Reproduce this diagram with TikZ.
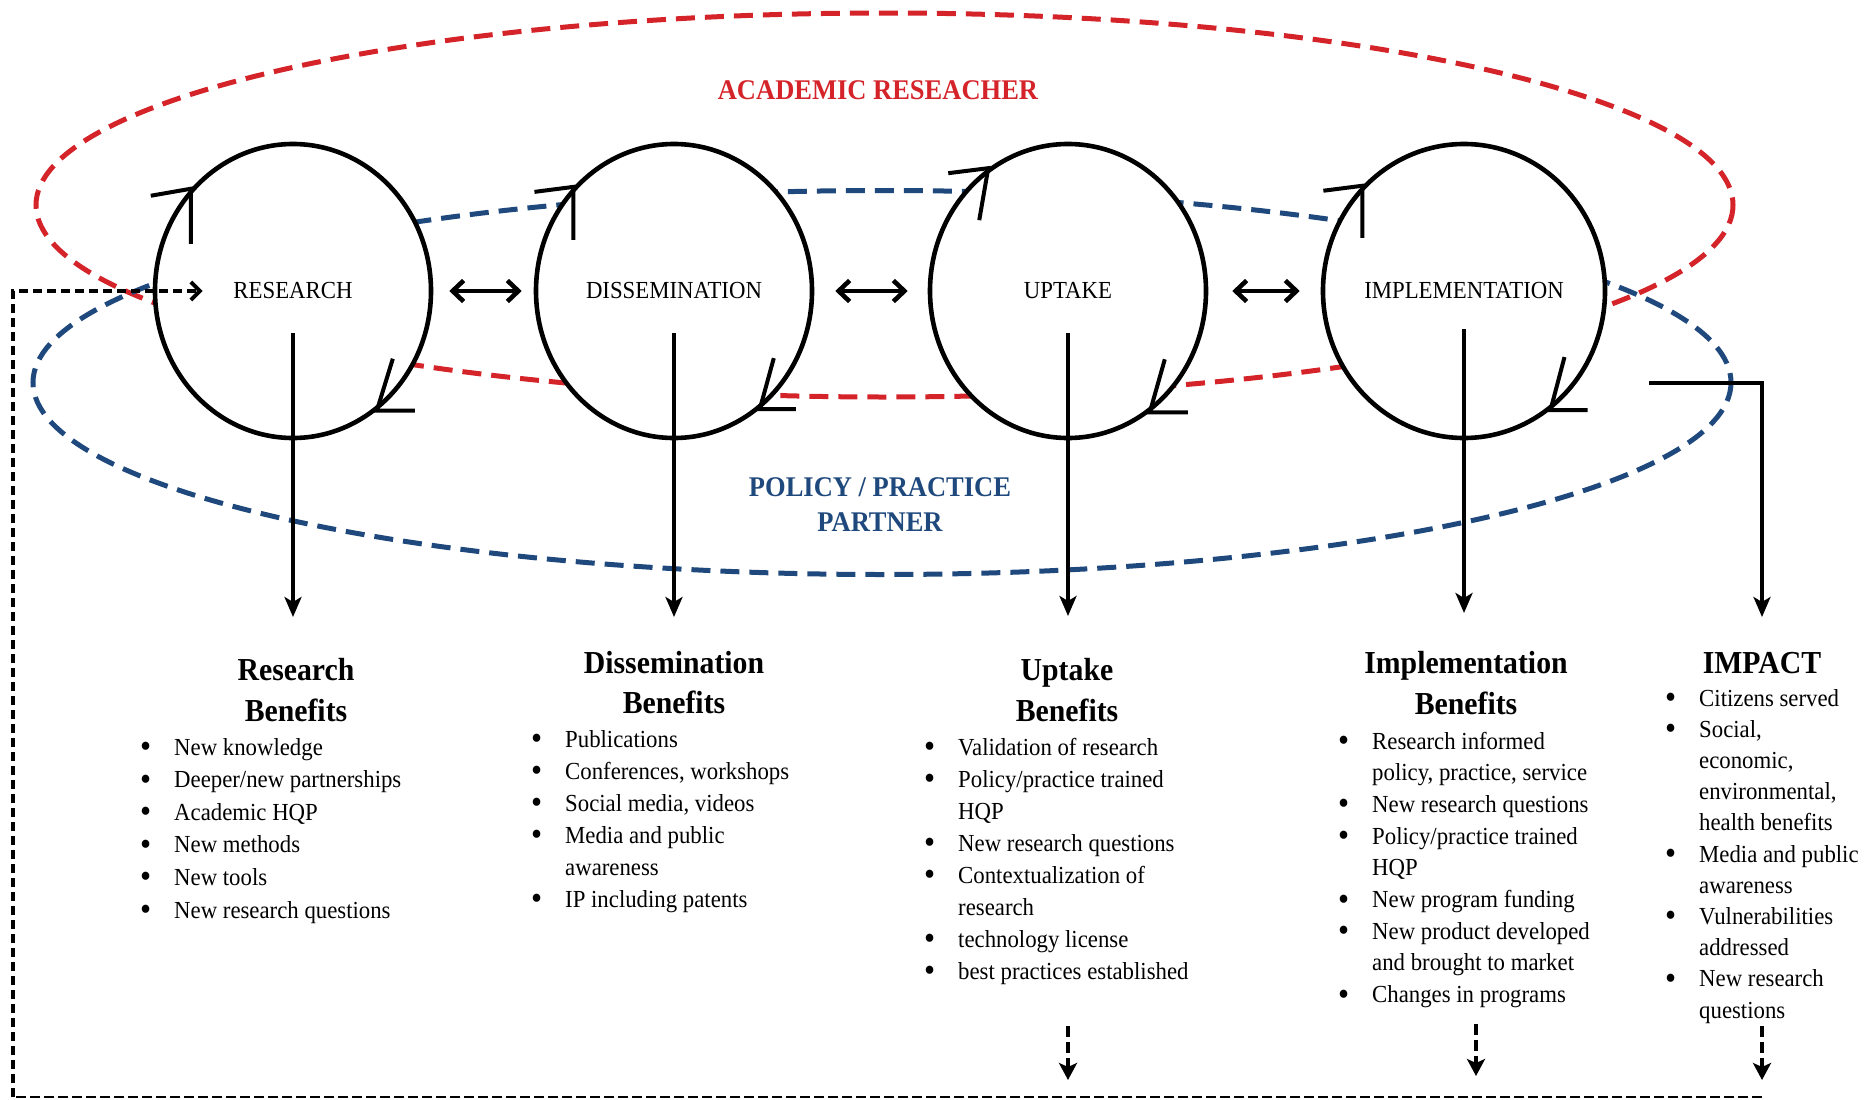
\documentclass[tikz,border=0pt]{standalone}
\usepackage{fontspec}
\setmainfont{Liberation Serif}[FakeStretch=0.93]
\usetikzlibrary{shapes.geometric,arrows.meta}
\definecolor{acred}{RGB}{212,36,42}
\definecolor{ppblue}{RGB}{31,73,125}
\newcommand{\bi}{\makebox[34pt][l]{\raisebox{-2.5pt}{\fontsize{34}{34}\selectfont\textbullet}}}
\newcommand{\ind}{\hspace*{34pt}}
\begin{document}
\begin{tikzpicture}[x=1pt,y=-1pt,
  stage/.style={draw, line width=4.6pt, ellipse, fill=white, minimum width=276pt,
    minimum height=294pt, inner sep=0pt, font=\fontsize{24.5}{28}\selectfont},
  ring/.style={line width=5pt, dash pattern=on 19pt off 10pt},
  tick/.style={line width=4pt, line cap=butt},
  dbl/.style={line width=4.6pt, {Straight Barb[length=11pt,width=21pt]}-{Straight Barb[length=11pt,width=21pt]}},
  down/.style={line width=3.4pt, -{Stealth[length=20pt,width=17pt,inset=5pt]}},
  bdown/.style={line width=4pt, dash pattern=on 11pt off 5pt, -{Stealth[length=17pt,width=18pt,inset=4pt]}},
  fbthick/.style={line width=4pt, dash pattern=on 9pt off 5pt},
  fbthin/.style={line width=2.5pt, dash pattern=on 10pt off 4pt},
  head/.style={inner sep=0pt, anchor=base, font=\fontsize{32}{40.5}\selectfont\bfseries},
  lab/.style={inner sep=0pt, anchor=base, font=\fontsize{28.5}{35}\selectfont\bfseries},
  lst/.style={inner sep=0pt, anchor=base west}]
\useasboundingbox (0,0) rectangle (1866,1100);

% group ellipses
\draw[ring, acred] (884.5,205) ellipse [x radius=848.5, y radius=192];
\draw[ring, ppblue] (882,382.5) ellipse [x radius=849, y radius=192];

% labels
\node[lab, text=acred] (acl) at (878,99) {ACADEMIC RESEACHER};
\node[lab, text=ppblue] (ppl) at (880,496.5) {\begin{tabular}[t]{@{}c@{}}POLICY / PRACTICE\\PARTNER\end{tabular}};

% stages
\node[stage] (res) at (293,291) {RESEARCH};
\node[stage] (dis) at (674,291) {DISSEMINATION};
\node[stage] (upt) at (1068,291) {UPTAKE};
\node[stage] (imp) at (1464,291) {IMPLEMENTATION};

% rotation ticks
\draw[tick] (res.135) ++(0,55) -- (res.135) -- ++(-40,7);
\draw[tick] (dis.134) ++(0,53) -- (dis.134) -- ++(-39,5);
\draw[tick] (upt.123) ++(-9,52) -- (upt.123) -- ++(-40,5);
\draw[tick] (imp.134) ++(0,52) -- (imp.134) -- ++(-39,5);
\draw[tick] (res.-55) ++(16,-52) -- (res.-55) -- ++(38,0);
\draw[tick] (dis.-54) ++(14,-51) -- (dis.-54) -- ++(36,0);
\draw[tick] (upt.-56) ++(15,-53) -- (upt.-56) -- ++(38,0);
\draw[tick] (imp.-54) ++(14,-53) -- (imp.-54) -- ++(37,0);

% double arrows
\draw[dbl] ([xshift=16pt]res.east) -- ([xshift=-12pt]dis.west);
\draw[dbl] ([xshift=21pt]dis.east) -- ([xshift=-20pt]upt.west);
\draw[dbl] ([xshift=24pt]upt.east) -- ([xshift=-21pt]imp.west);

% arrow ends
\coordinate (rend) at (293,617);
\coordinate (dend) at (674,617);
\coordinate (uend) at (1068,616);
\coordinate (iend) at (1464,613);
\coordinate (impS) at (1649,383);
\coordinate (impE) at (1762,617);

\draw[down] ([yshift=-42pt]res.center) -- (rend);
\draw[down] ([yshift=-42pt]dis.center) -- (dend);
\draw[down] ([yshift=-42pt]upt.center) -- (uend);
\draw[down] ([yshift=-38pt]imp.center) -- (iend);
\draw[down] (impS) -- (impS -| impE) -- (impE);

% headings
\node[head] (rbh) at (296,680.5) {\begin{tabular}[t]{@{}c@{}}Research\\Benefits\end{tabular}};
\node[head] (dbh) at (674,673) {\begin{tabular}[t]{@{}c@{}}Dissemination\\Benefits\end{tabular}};
\node[head] (ubh) at (1067,680.5) {\begin{tabular}[t]{@{}c@{}}Uptake\\Benefits\end{tabular}};
\node[head] (ibh) at (1466,673.5) {\begin{tabular}[t]{@{}c@{}}Implementation\\Benefits\end{tabular}};
\node[head] (ith) at (1762,673) {IMPACT};

% lists
\node[lst] (rbl) at (140,755) {\fontsize{24.5}{32.6}\selectfont\begin{tabular}[t]{@{}l@{}}
\bi New knowledge\\ \bi Deeper/new partnerships\\ \bi Academic HQP\\ \bi New methods\\ \bi New tools\\ \bi New research questions\end{tabular}};
\node[lst] (dbl) at (531,747) {\fontsize{24.5}{32}\selectfont\begin{tabular}[t]{@{}l@{}}
\bi Publications\\ \bi Conferences, workshops\\ \bi Social media, videos\\ \bi Media and public\\ \ind awareness\\ \bi IP including patents\end{tabular}};
\node[lst] (ubl) at (924,755) {\fontsize{24.5}{32}\selectfont\begin{tabular}[t]{@{}l@{}}
\bi Validation of research\\ \bi Policy/practice trained\\ \ind HQP\\ \bi New research questions\\ \bi Contextualization of\\ \ind research\\ \bi technology license\\ \bi best practices established\end{tabular}};
\node[lst] (ibl) at (1338,749) {\fontsize{24.5}{31.7}\selectfont\begin{tabular}[t]{@{}l@{}}
\bi Research informed\\ \ind policy, practice, service\\ \bi New research questions\\ \bi Policy/practice trained\\ \ind HQP\\ \bi New program funding\\ \bi New product developed\\ \ind and brought to market\\ \bi Changes in programs\end{tabular}};
\node[lst] (itl) at (1665,706) {\fontsize{24.5}{31.2}\selectfont\begin{tabular}[t]{@{}l@{}}
\bi Citizens served\\ \bi Social,\\ \ind economic,\\ \ind environmental,\\ \ind health benefits\\ \bi Media and public\\ \ind awareness\\ \bi Vulnerabilities\\ \ind addressed\\ \bi New research\\ \ind questions\end{tabular}};

% feedback loop
\coordinate (ub1) at (1068,1026); \coordinate (ub2) at (1068,1080);
\coordinate (ib1) at (1476,1024); \coordinate (ib2) at (1476,1076);
\coordinate (tb1) at (1762,1026); \coordinate (tb2) at (1762,1080);
\draw[bdown] (ub1) -- (ub2);
\draw[bdown] (ib1) -- (ib2);
\draw[bdown] (tb1) -- (tb2);
\coordinate (fbR) at (1762,1097);
\coordinate (fbL) at (13,1097);
\coordinate (fbT) at (13,291);
\draw[fbthin] (fbR) -- (fbL);
\draw[fbthick, -{Straight Barb[length=9pt,width=18pt]}] (fbL) -- (fbT) -- ([xshift=50pt]res.west);
\end{tikzpicture}
\end{document}
